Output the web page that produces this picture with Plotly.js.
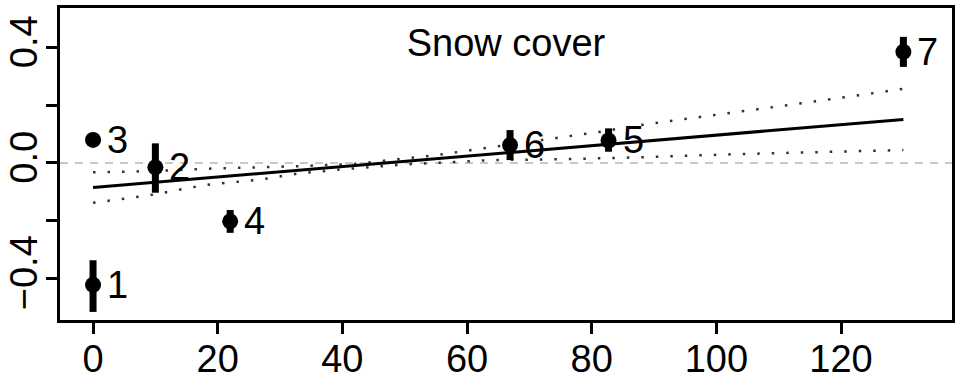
<!DOCTYPE html>
<html>
<head>
<meta charset="utf-8">
<script src="https://cdn.plot.ly/plotly-3.0.1.min.js"></script>
<style>
html,body{margin:0;padding:0;background:#fff;}
#chart{width:971px;height:390px;}
</style>
</head>
<body>
<div id="chart"></div>
<script>
// Site points
const siteLabels = ["1", "2", "3", "4", "5", "6", "7"];
const snowCover = [0, 10, 0, 22, 82.7, 66.9, 130];
const effect = [-0.422, -0.015, 0.080, -0.202, 0.078, 0.062, 0.385];
const errPlus = [0.085, 0.083, 0, 0.039, 0.042, 0.052, 0.052];
const errMinus = [0.094, 0.088, 0, 0.040, 0.039, 0.052, 0.052];

// Fitted regression line
const fitX = [0, 130];
const fitY = [-0.085, 0.151];

// Confidence band (upper)
const upperX = [0, 10, 18, 27, 33, 42, 55, 64, 73, 81, 89, 101, 113, 122, 130];
const upperY = [-0.032, -0.028, -0.020, -0.015, -0.011, -0.003, 0.027, 0.055, 0.082, 0.107, 0.135, 0.169, 0.205, 0.232, 0.257];

// Confidence band (lower)
const lowerX = [0, 9, 18, 27, 33, 40, 50, 64, 75, 85, 104, 130];
const lowerY = [-0.138, -0.112, -0.076, -0.057, -0.036, -0.022, -0.005, 0.010, 0.013, 0.018, 0.031, 0.045];

// Axis ticks
const xTicks = [0, 20, 40, 60, 80, 100, 120];
const yTickVals = [-0.4, -0.2, 0, 0.2, 0.4];
const yTickText = ["\u22120.4", "", "0.0", "", "0.4"];

const chartTitle = "Snow cover";
const FONT = "Liberation Sans, Arial, sans-serif";

const traces = [
  {
    x: upperX, y: upperY, type: "scatter", mode: "lines",
    line: {color: "#333", width: 2.5, dash: "2.5px,12px"},
    hoverinfo: "skip", showlegend: false
  },
  {
    x: lowerX, y: lowerY, type: "scatter", mode: "lines",
    line: {color: "#333", width: 2.5, dash: "2.5px,12px"},
    hoverinfo: "skip", showlegend: false
  },
  {
    x: fitX, y: fitY, type: "scatter", mode: "lines",
    line: {color: "#000", width: 3},
    showlegend: false
  },
  {
    x: snowCover, y: effect, type: "scatter", mode: "markers",
    marker: {color: "#000", size: 16},
    error_y: {type: "data", symmetric: false, array: errPlus, arrayminus: errMinus,
              thickness: 7, width: 0, color: "#000"},
    showlegend: false
  }
];

const annotations = siteLabels.map((lab, i) => ({
  x: snowCover[i], y: effect[i], xref: "x", yref: "y",
  text: lab, showarrow: false, xanchor: "left", yanchor: "middle",
  xshift: 12, font: {family: FONT, size: 38, color: "#000"}
}));

const layout = {
  width: 971, height: 390,
  margin: {l: 60, r: 19, t: 8, b: 70},
  paper_bgcolor: "#fff", plot_bgcolor: "#fff",
  font: {family: FONT, size: 38, color: "#000"},
  title: {
    text: chartTitle, x: 0.5, xref: "paper", xanchor: "center",
    y: 1 - 42.5 / 390, yref: "container", yanchor: "middle",
    font: {family: FONT, size: 38, color: "#000"}
  },
  xaxis: {
    range: [-5.3, 137.8], tickvals: xTicks, ticktext: xTicks.map(String),
    showgrid: false, zeroline: false,
    showline: true, linecolor: "#000", linewidth: 3, mirror: true,
    ticks: "outside", ticklen: 11, tickwidth: 3, tickcolor: "#000",
    ticklabelstandoff: -8,
    tickfont: {family: FONT, size: 38, color: "#000"}
  },
  yaxis: {
    range: [-0.544, 0.537], tickvals: yTickVals, ticktext: yTickText,
    tickangle: -90,
    showgrid: false, zeroline: false,
    showline: true, linecolor: "#000", linewidth: 3, mirror: true,
    ticks: "outside", ticklen: 11, tickwidth: 3, tickcolor: "#000",
    ticklabelstandoff: -6,
    tickfont: {family: FONT, size: 38, color: "#000"}
  },
  shapes: [{
    type: "line", xref: "paper", yref: "y", x0: 0, x1: 1, y0: 0, y1: 0,
    line: {color: "#c8c8c8", width: 2, dash: "8px,7px"}, layer: "below"
  }],
  annotations: annotations,
  showlegend: false
};

Plotly.newPlot("chart", traces, layout, {staticPlot: true, displayModeBar: false});
</script>
</body>
</html>
